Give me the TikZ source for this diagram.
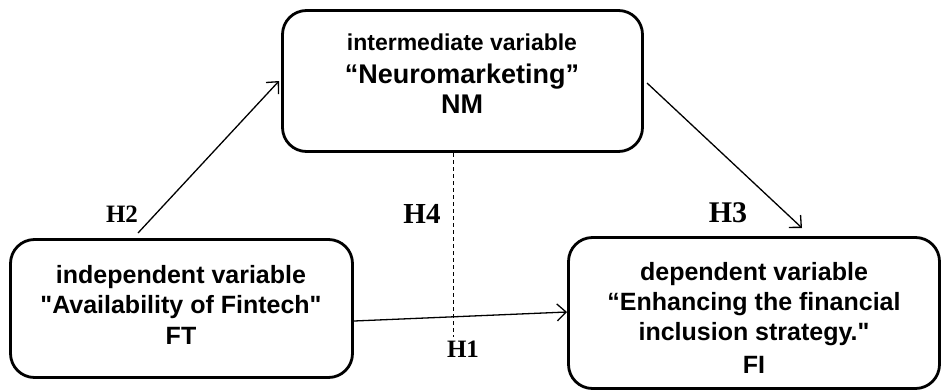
\documentclass[tikz,border=0pt]{standalone}
\usepackage{fontspec}
\setmainfont{Liberation Serif}
\setsansfont{Liberation Sans}[Ligatures=TeXOff]
\usetikzlibrary{arrows.meta}
\begin{document}
\begin{tikzpicture}[x=1pt,y=-1pt,
  box/.style={draw,line width=2.8pt,rounded corners=24pt,inner sep=0pt},
  txt/.style={font=\sffamily\bfseries\fontsize{#1}{#1}\selectfont,inner sep=0pt,anchor=base},
  hyp/.style={font=\rmfamily\bfseries\fontsize{#1}{#1}\selectfont,inner sep=0pt,anchor=base},
  arr/.style={line width=1.3pt,-{Straight Barb[length=9pt,width=17pt,line width=1.3pt]}},
  dashline/.style={line width=1pt,dash pattern=on 4pt off 3pt}]
\useasboundingbox (0,0) rectangle (944,391);
\fill[white] (0,0) rectangle (944,391);
% boxes
\node[box,minimum width=360pt,minimum height=141pt] (nm) at (462.5,81) {};
\node[box,minimum width=342pt,minimum height=138pt] (ft) at (181.5,308.5) {};
\node[box,minimum width=371pt,minimum height=151pt] (fi) at (754,313) {};
% texts
\node[txt=23] (nm1) at (462,50) {intermediate variable};
\node[txt=27] (nm2) at (462,83) {“Neuromarketing”};
\node[txt=27] (nm3) at (462,113) {NM};
\node[txt=25] (ft1) at (181,283) {independent variable};
\node[txt=25] (ft2) at (181,313) {"Availability of Fintech"};
\node[txt=25] (ft3) at (181,344) {FT};
\node[txt=25] (fi1) at (754,280) {dependent variable};
\node[txt=25] (fi2) at (754,310) {“Enhancing the financial};
\node[txt=25] (fi3) at (754,340) {inclusion strategy."};
\node[txt=25] (fi4) at (754,373) {FI};
% hypotheses labels
\node[hyp=25] (h2) at (122,222) {H2};
\node[hyp=29] (h4) at (422,223) {H4};
\node[hyp=30] (h3) at (728,222) {H3};
\node[hyp=25] (h1) at (463,357) {H1};
% connector coordinates
\coordinate (a2s) at (138,233);
\coordinate (a2e) at (279,81);
\coordinate (a3s) at (647,83);
\coordinate (a3e) at (802,228);
\coordinate (a1s) at (354,321);
\coordinate (a1e) at (567,312);
\coordinate (d4s) at (453,153);
\coordinate (d4e) at (453,337);
\draw[arr] (a2s) -- (a2e);
\draw[arr] (a3s) -- (a3e);
\draw[arr] (a1s) -- (a1e);
\draw[dashline] (d4s) -- (d4e);
\end{tikzpicture}
\end{document}
